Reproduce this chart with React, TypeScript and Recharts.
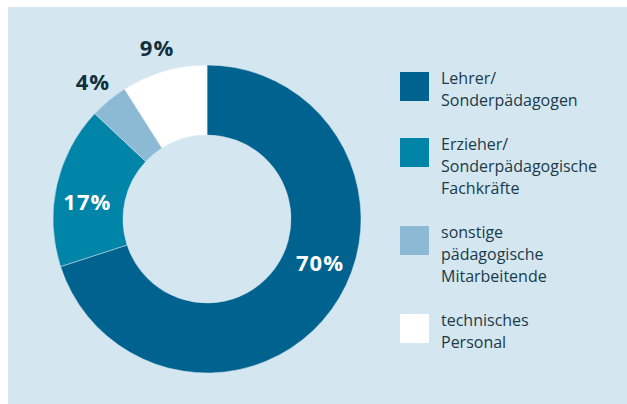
import { PieChart, Pie, Cell, Legend } from "recharts";

const categories = [
  "Lehrer/\nSonderpädagogen",
  "Erzieher/\nSonderpädagogische\nFachkräfte",
  "sonstige\npädagogische\nMitarbeitende",
  "technisches\nPersonal",
];
const shares = [70, 17, 4, 9];
const colors = ["#00628f", "#0084a8", "#8cbad4", "#ffffff"];

const BG = "#d4e6f0";
const TEXT = "#1b3a4a";
const RAD = Math.PI / 180;
// small angle tweaks for the inner labels, like in the original layout
const labelTurn = [15, 4, 0, 0];

const chartData = categories.map((name, i) => ({ name, value: shares[i] }));

// big slices get the label inside the ring, small ones outside
function renderLabel(props: any) {
  const { cx, cy, midAngle, innerRadius, outerRadius, value, index } = props;
  const inside = value >= 10;
  const r = inside ? (innerRadius + outerRadius) / 2 + 2 : outerRadius + 25;
  const angle = midAngle + labelTurn[index];
  const x = cx + r * Math.cos(-angle * RAD);
  const y = cy + r * Math.sin(-angle * RAD);
  return (
    <text
      x={x}
      y={y}
      fill={inside ? "#ffffff" : "#10303f"}
      textAnchor="middle"
      dominantBaseline="central"
      fontFamily="'Open Sans', sans-serif"
      fontWeight={700}
      fontSize={22}
      letterSpacing={1}
    >
      {value}%
    </text>
  );
}

function LegendBox() {
  return (
    <div style={{ fontFamily: "'Open Sans', sans-serif", fontSize: 16, lineHeight: "22px", color: TEXT }}>
      {chartData.map((d, i) => (
        <div key={d.name} style={{ display: "flex", marginBottom: 27 }}>
          <div style={{ width: 29, height: 29, background: colors[i], flexShrink: 0 }} />
          <div style={{ marginLeft: 12, marginTop: -5, whiteSpace: "pre-line" }}>{d.name}</div>
        </div>
      ))}
    </div>
  );
}

export default function App() {
  return (
    <div style={{ position: "absolute", left: 8, top: 7, width: 619, height: 397, background: BG }}>
      <PieChart width={619} height={397} margin={{ top: 0, right: 0, bottom: 0, left: 0 }}>
        <Pie
          data={chartData}
          dataKey="value"
          nameKey="name"
          cx={199}
          cy={212}
          innerRadius={84}
          outerRadius={154}
          startAngle={90}
          endAngle={-270}
          stroke={BG}
          strokeWidth={0.5}
          label={renderLabel}
          labelLine={false}
          isAnimationActive={false}
        >
          {chartData.map((d, i) => (
            <Cell key={d.name} fill={colors[i]} />
          ))}
        </Pie>
        <Legend
          layout="vertical"
          content={<LegendBox />}
          wrapperStyle={{ position: "absolute", left: 392, top: 65, width: 220 }}
        />
      </PieChart>
    </div>
  );
}
